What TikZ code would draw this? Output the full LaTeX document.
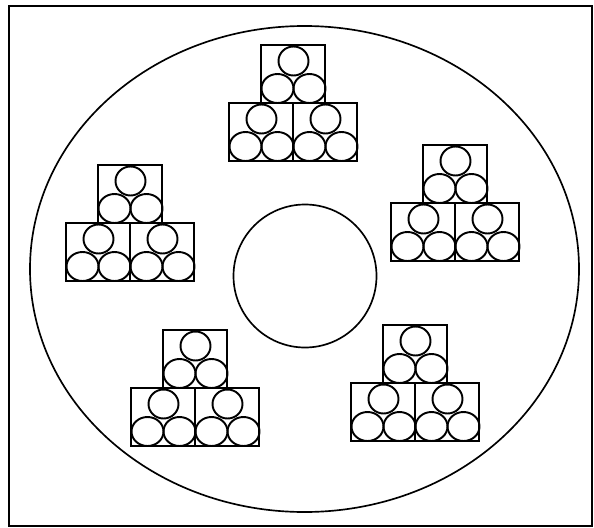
\documentclass[tikz,border=0pt]{standalone}
\usepackage{tikz}

% one crate: #1 = left edge, #2 = top edge
\newcommand{\cratebox}[2]{%
  \draw[crate] (#1,#2) rectangle ++(64,58);
  \draw[roll] (#1+32.5,#2+16) ellipse (15 and 14.5);
  \draw[roll] (#1+16.5,#2+43.5) ellipse (16 and 14.5);
  \draw[roll] (#1+48.5,#2+43.5) ellipse (16 and 14.5);
}

\begin{document}
\begin{tikzpicture}[x=0.02cm, y=-0.02cm,
  frame/.style={draw=black, line width=1.2pt},
  disc/.style={draw=black, line width=0.95pt},
  crate/.style={draw=black, line width=1.2pt},
  roll/.style={draw=black, line width=1.1pt}
]
  \useasboundingbox (0,0) rectangle (594,527);
  \draw[frame] (9,6) rectangle (592,526);

  % table and hub
  \draw[disc] (304.5,269) ellipse (274.5 and 243);
  \draw[disc] (305,276) circle (71.5);

  % stacks: centre x / join line y
  \foreach \xc/\yb in {293/103, 130/223, 455/203, 195/388, 415/383}{
    \cratebox{\xc-32}{\yb-58}
    \cratebox{\xc-64}{\yb}
    \cratebox{\xc}{\yb}
  }
\end{tikzpicture}
\end{document}
